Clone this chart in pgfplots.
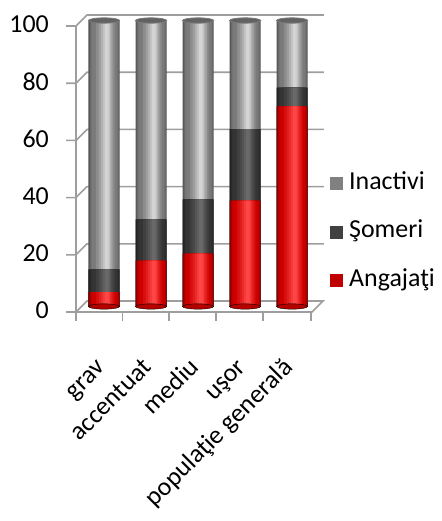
\documentclass[border=0pt]{standalone}
\usepackage{pgfplots}
\usepackage{pgfplotstable}
\pgfplotsset{compat=1.18}
\usepackage{fontspec}
\setmainfont{Carlito}

\definecolor{wallgray}{RGB}{158,158,158}
\definecolor{legInactivi}{RGB}{128,128,128}
\definecolor{legSomeri}{RGB}{64,64,64}
\definecolor{legAngajati}{RGB}{192,0,0}
% edge, body and highlight tones of the cylinders
\definecolor{grayEdge}{RGB}{82,82,82}
\definecolor{grayBody}{RGB}{122,122,122}
\definecolor{grayHi}{RGB}{212,212,212}
\definecolor{darkEdge}{RGB}{30,30,30}
\definecolor{darkBody}{RGB}{52,52,52}
\definecolor{darkHi}{RGB}{105,105,105}
\definecolor{redEdge}{RGB}{125,0,0}
\definecolor{redBody}{RGB}{205,0,0}
\definecolor{redHi}{RGB}{255,70,70}
\definecolor{capGray}{RGB}{98,98,98}

% share (%) of each group
\pgfplotstableread{
idx A    S    I
0   5    8    87
1   16   14.5 69.5
2   18.5 19   62.5
3   37   25   38
4   70   6.5  23.5
}\datatable

% one vertical stripe of a cylinder: #1 height expression, #2 colour,
% #3 bar width, #4 bar shift
\newcommand\stripe[4]{%
  \addplot[ybar, draw=none, fill=#2, bar width=#3, bar shift=#4, forget plot]
    table[x=idx, y expr={#1}] {\datatable};
}
% a whole layer of cylinders: #1 height, #2 edge, #3 body, #4 highlight
\newcommand\cylinders[4]{%
  \stripe{#1}{#2}{0.66}{0}
  \stripe{#1}{#3!55!#2}{0.62}{0.004}
  \stripe{#1}{#3}{0.56}{0.01}
  \stripe{#1}{#4!20!#3}{0.40}{0.025}
  \stripe{#1}{#4!40!#3}{0.30}{0.035}
  \stripe{#1}{#4!60!#3}{0.22}{0.045}
  \stripe{#1}{#4!80!#3}{0.15}{0.052}
  \stripe{#1}{#4}{0.08}{0.058}
}

\begin{document}
\begin{tikzpicture}
\useasboundingbox (0bp,0bp) rectangle (442bp,-521bp);

% walls and floor of the chart box (measured from the top-left corner, y downwards)
\begin{scope}[x=1bp, y=-1bp, draw=wallgray, line width=1.6bp, line cap=rect]
  \foreach \v in {20,40,60,80,100} {
    \pgfmathsetmacro{\yf}{312-2.86*\v}
    \draw (67,\yf) -- (76,\yf) -- (87,\yf-11) -- (323,\yf-11);
  }
  \draw (67,312) -- (312,312) -- (323,301) -- (87,301) -- (76,312);
  \draw (76,312) -- (76,26);
  \foreach \x in {76,122.5,169,216,263,311}
    \draw (\x,312) -- (\x,320);
\end{scope}

\begin{axis}[
  at={(80.5bp,-306.5bp)}, anchor=south west,
  scale only axis, width=237bp, height=286bp,
  xmin=-0.5, xmax=4.54, ymin=0, ymax=100,
  clip=false,
  axis line style={draw=none},
  major tick length=0pt,
  ytick={0,20,40,60,80,100},
  xtick={0,1,2,3,4},
  xticklabels={grav,accentuat,mediu,uşor,populaţie generală},
  tick label style={font=\fontsize{26}{31}\selectfont},
  /pgf/number format/assume math mode=true,
  yticklabel style={anchor=east, inner sep=0pt, xshift=-31.5bp, yshift=-4bp},
  xticklabel style={xshift=2bp, yshift=-62bp, rotate=45, anchor=base east, inner sep=0pt},
  legend image code/.code={\fill[#1, draw=none] (0bp,-6.5bp) rectangle (13bp,6.5bp);
    \path[draw=none, fill=none] (0bp,0bp) -- (19bp,0bp);},
  legend style={at={(1.0527,0.2605)}, anchor=west, draw=none, fill=none,
    inner sep=0pt, font=\fontsize{26}{31}\selectfont, row sep=27.5bp,
    nodes={inner sep=0pt, text height=16bp, text depth=5bp}},
  legend cell align=left,
]
% rounded bottoms of the cylinders
\addplot[only marks, mark=*, mark size=15.6bp, mark options={yscale=0.17, fill=redBody!70!redEdge, draw=none}, forget plot]
  table[x=idx, y expr=0] {\datatable};
\cylinders{\thisrow{A}+\thisrow{S}+\thisrow{I}}{grayEdge}{grayBody}{grayHi}
\cylinders{\thisrow{A}+\thisrow{S}}{darkEdge}{darkBody}{darkHi}
\cylinders{\thisrow{A}}{redEdge}{redBody}{redHi}
% top caps
\addplot[only marks, mark=*, mark size=15.6bp, mark options={yscale=0.17, fill=capGray, draw=grayBody, line width=0.8bp}, forget plot]
  table[x=idx, y expr=\thisrow{A}+\thisrow{S}+\thisrow{I}] {\datatable};

\addlegendimage{fill=legInactivi}
\addlegendentry{Inactivi}
\addlegendimage{fill=legSomeri}
\addlegendentry{Şomeri}
\addlegendimage{fill=legAngajati}
\addlegendentry{Angajaţi}
\end{axis}
\end{tikzpicture}
\end{document}
